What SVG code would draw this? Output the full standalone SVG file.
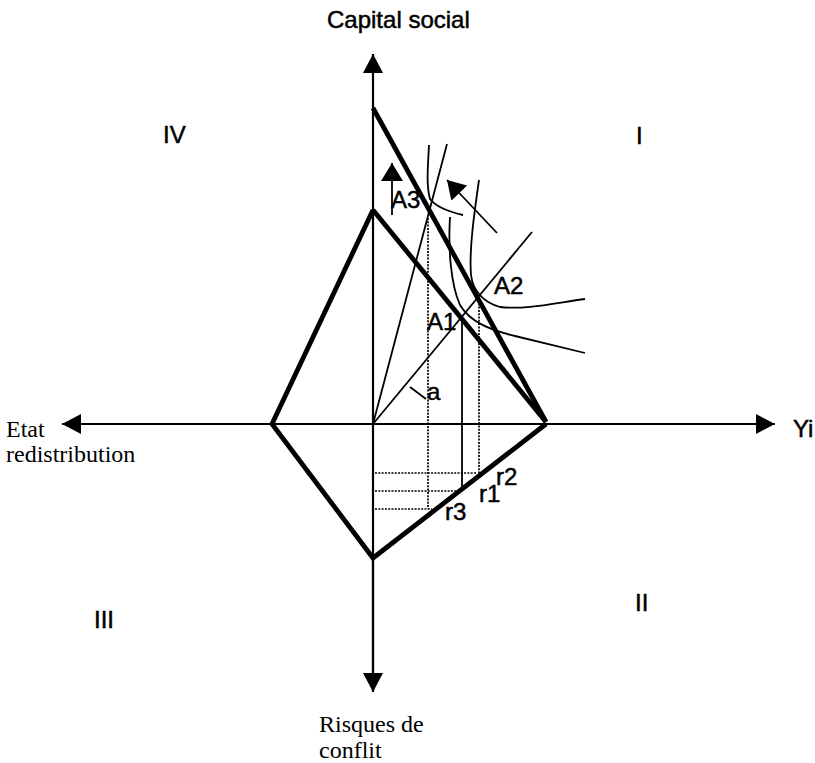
<svg xmlns="http://www.w3.org/2000/svg" width="815" height="763" viewBox="0 0 815 763">
<style>
.ax{stroke:#000;stroke-width:2.2;fill:none}
.thick{stroke:#000;stroke-width:4.8;fill:none;stroke-linejoin:miter}
.thin{stroke:#000;stroke-width:1.8;fill:none}
.dot{stroke:#000;stroke-width:1.7;fill:none;stroke-dasharray:2 1.3}
.sans{font-family:"Liberation Sans",Arial,sans-serif;font-size:24px;fill:#000;stroke:#000;stroke-width:0.5}
.serif{font-family:"Liberation Serif","Times New Roman",serif;font-size:24px;fill:#000}
</style>
<defs>
<marker id="ah" markerWidth="20" markerHeight="20" refX="19" refY="10" orient="auto" markerUnits="userSpaceOnUse">
<path d="M0,0 L19,10 L0,20 Z" fill="#000"/>
</marker>
<marker id="sh" markerWidth="20" markerHeight="22" refX="18" refY="11" orient="auto" markerUnits="userSpaceOnUse">
<path d="M0,0 L18,11 L0,22 Z" fill="#000"/>
</marker>
</defs>
<rect width="815" height="763" fill="#fff"/>
<g id="connectors">
<line class="ax" x1="373" y1="690" x2="373" y2="54" marker-end="url(#ah)"/>
<line class="ax" x1="373" y1="560" x2="373" y2="692" marker-end="url(#ah)"/>
<line class="ax" x1="373" y1="424" x2="775" y2="424" marker-end="url(#ah)"/>
<line class="ax" x1="373" y1="424" x2="62" y2="424" marker-end="url(#ah)"/>
<path class="thick" d="M373,108 L546,422"/>
<path class="thick" d="M373,210 L546,422"/>
<path class="thick" d="M373,210 L272,424 L373,558 L546,424"/>
<line class="thin" x1="373" y1="424" x2="532" y2="232"/>
<line class="thin" x1="373" y1="424" x2="447" y2="144"/>
<path class="thin" d="M429,145 C428,165 426,185 430,199 C436,207 450,212 463,215"/>
<path class="thin" d="M450,217 C448,250 451,285 460,305 C470,322 490,330 515,336 C540,342 565,348 585,353"/>
<path class="thin" d="M479,180 C474,215 469,250 471,275 C473,292 485,303 500,307 C525,310 555,303 585,299"/>
<line class="thin" x1="392" y1="215" x2="392" y2="163" marker-end="url(#sh)"/>
<line class="thin" x1="497" y1="233" x2="447" y2="180" marker-end="url(#sh)"/>
<line class="dot" x1="428" y1="218" x2="428" y2="509"/>
<line class="thin" x1="462" y1="316" x2="462" y2="489"/>
<line class="dot" x1="479" y1="300" x2="479" y2="474"/>
<line class="dot" x1="375" y1="473" x2="477" y2="473"/>
<line class="dot" x1="375" y1="491" x2="458" y2="491"/>
<line class="dot" x1="375" y1="509" x2="432" y2="509"/>
<line class="thin" x1="410" y1="387" x2="426" y2="399"/>
</g>
<g id="labels">
<text class="sans" x="327" y="28">Capital social</text>
<text class="sans" x="793" y="437">Yi</text>
<text class="serif" x="6" y="437">Etat</text>
<text class="serif" x="6" y="462">redistribution</text>
<text class="serif" x="319" y="732">Risques de</text>
<text class="serif" x="319" y="758">conflit</text>
<text class="sans" x="163" y="143">IV</text>
<text class="sans" x="636" y="144">I</text>
<text class="sans" x="94" y="628">III</text>
<text class="sans" x="635" y="611">II</text>
<text class="sans" x="391" y="208">A3</text>
<text class="sans" x="494" y="294">A2</text>
<text class="sans" x="427" y="330">A1</text>
<text class="sans" x="427" y="400">a</text>
<text class="sans" x="496" y="485">r2</text>
<text class="sans" x="479" y="502">r1</text>
<text class="sans" x="445" y="520">r3</text>
</g>
</svg>
